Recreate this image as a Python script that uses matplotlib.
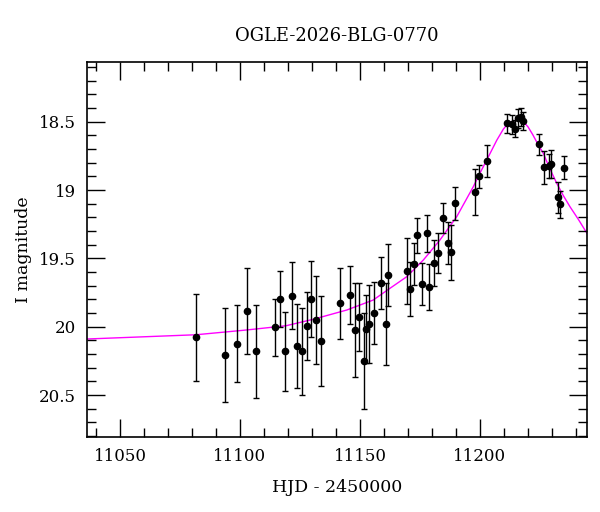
import numpy as np
import matplotlib
matplotlib.use("Agg")
import matplotlib.pyplot as plt
from matplotlib.ticker import MultipleLocator, FormatStrFormatter

# photometry (HJD - 2450000, I mag, error)
hjd = [11081.8, 11093.75, 11098.75, 11102.8, 11106.7, 11114.7, 11116.8, 11118.75,
       11121.7, 11123.75, 11125.7, 11127.8, 11129.6, 11131.7, 11133.75, 11141.8,
       11145.8, 11147.8, 11149.7, 11151.7, 11152.5, 11153.75, 11155.7, 11158.75,
       11160.7, 11161.8, 11169.7, 11170.7, 11172.5, 11173.75, 11175.7, 11177.8,
       11178.6, 11180.7, 11182.6, 11184.7, 11186.8, 11187.8, 11189.7, 11197.8,
       11199.6, 11202.8, 11211.4, 11213.5, 11214.6, 11216.0, 11217.0, 11217.8,
       11224.6, 11226.8, 11228.9, 11229.7, 11232.5, 11233.3, 11234.9]
mag = [20.078, 20.21, 20.124, 19.885, 20.18, 20.005, 19.795, 20.18,
       19.775, 20.143, 20.18, 19.993, 19.80, 19.95, 20.105, 19.83,
       19.768, 20.026, 19.927, 20.25, 20.017, 19.98, 19.90, 19.683,
       19.98, 19.62, 19.593, 19.724, 19.544, 19.33, 19.688, 19.317,
       19.707, 19.534, 19.46, 19.205, 19.385, 19.456, 19.098, 19.015,
       18.898, 18.788, 18.512, 18.52, 18.55, 18.475, 18.464, 18.495,
       18.666, 18.834, 18.824, 18.81, 19.054, 19.105, 18.837]
err = [0.318, 0.344, 0.283, 0.318, 0.34, 0.21, 0.205, 0.29,
       0.245, 0.307, 0.318, 0.25, 0.278, 0.32, 0.326, 0.263,
       0.21, 0.344, 0.25, 0.35, 0.25, 0.285, 0.227, 0.19,
       0.30, 0.227, 0.244, 0.20, 0.153, 0.128, 0.156, 0.135,
       0.168, 0.167, 0.146, 0.112, 0.153, 0.2, 0.12, 0.167,
       0.085, 0.116, 0.07, 0.073, 0.06, 0.07, 0.068, 0.066,
       0.077, 0.118, 0.085, 0.10, 0.116, 0.10, 0.083]

# model curve
model_t = [11036.4, 11081.7, 11102.8, 11119.2, 11130.5, 11144.5, 11155.5, 11162.5,
           11169.5, 11176.4, 11183.3, 11190.3, 11197.2, 11200.0, 11204.2, 11207.0,
           11209.7, 11211.0, 11212.5, 11214.0, 11216.0, 11218.0, 11220.0, 11222.0,
           11224.0, 11226.4, 11229.0, 11232.0, 11234.7, 11237.5, 11241.0, 11244.7]
model_m = [20.090, 20.059, 20.024, 19.993, 19.946, 19.878, 19.805, 19.719,
           19.634, 19.512, 19.366, 19.195, 18.976, 18.876, 18.732, 18.635,
           18.555, 18.527, 18.505, 18.493, 18.487, 18.498, 18.537, 18.595,
           18.660, 18.732, 18.840, 18.951, 19.040, 19.122, 19.215, 19.320]

plt.rcParams['font.family'] = ['DejaVu Serif']

fig = plt.figure(figsize=(6, 5.12), dpi=100)
ax = fig.add_axes([0.1455, 0.1471, 0.8333, 0.7312])

ax.plot(model_t, model_m, color='#ff00ff', linewidth=1.0, zorder=1)
ax.errorbar(hjd, mag, yerr=err, fmt='o', color='black', markersize=4.5,
            ecolor='black', elinewidth=1.0, capsize=2.2, capthick=1.0, zorder=2)

ax.set_xlim(11036.4, 11244.7)
ax.set_ylim(20.805, 18.065)

ax.xaxis.set_major_locator(MultipleLocator(50))
ax.xaxis.set_minor_locator(MultipleLocator(10))
ax.yaxis.set_major_locator(MultipleLocator(0.5))
ax.yaxis.set_minor_locator(MultipleLocator(0.1))
ax.yaxis.set_major_formatter(FormatStrFormatter('%g'))

ax.tick_params(which='both', direction='in', top=True, right=True, width=1.0,
               labelsize=12)
ax.tick_params(which='major', length=13, pad=8)
ax.tick_params(which='minor', length=6.5)
for s in ax.spines.values():
    s.set_linewidth(1.2)

ax.set_xlabel('HJD - 2450000', fontsize=12.5, labelpad=10)
ax.set_ylabel('I magnitude', fontsize=12.5, labelpad=5)
ax.set_title('OGLE-2026-BLG-0770', fontsize=13, pad=15)

fig.savefig('out.png', dpi=100)
